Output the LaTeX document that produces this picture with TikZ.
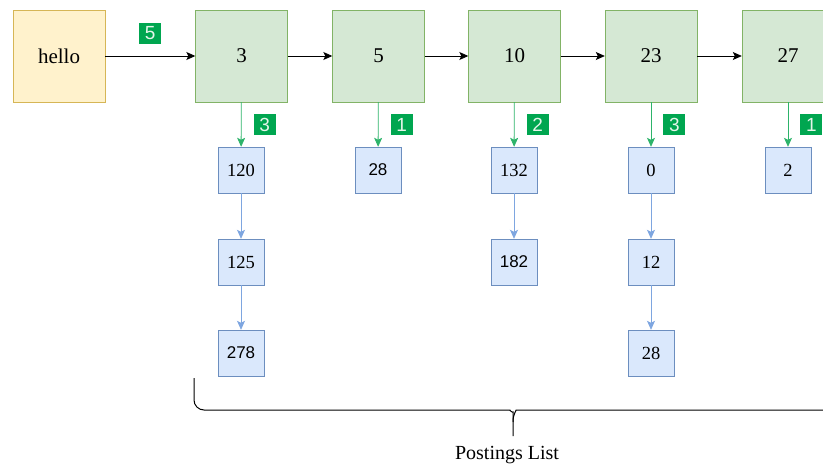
\documentclass[tikz,border=0pt]{standalone}
\usepackage{fontspec}
\setmainfont{Liberation Serif}
\setsansfont{Liberation Sans}
\usetikzlibrary{arrows.meta}
\definecolor{termfill}{HTML}{FFF2CC}
\definecolor{termdraw}{HTML}{D6B656}
\definecolor{docfill}{HTML}{D5E8D4}
\definecolor{docdraw}{HTML}{82B366}
\definecolor{postfill}{HTML}{DAE8FC}
\definecolor{postdraw}{HTML}{6C8EBF}
\definecolor{postline}{HTML}{7EA6E0}
\definecolor{freqgreen}{HTML}{00A650}
\definecolor{freqline}{HTML}{2DB36A}
\definecolor{freqtext}{HTML}{E6F5EA}
\tikzset{
  term/.style={draw=termdraw, fill=termfill, minimum size=92pt, inner sep=0pt,
    font=\fontsize{21}{21}\selectfont},
  docid/.style={draw=docdraw, fill=docfill, minimum size=92pt, inner sep=0pt,
    font=\fontsize{21}{21}\selectfont},
  posting/.style={draw=postdraw, fill=postfill, minimum size=46pt, inner sep=0pt,
    font=\fontsize{18.5}{18.5}\selectfont},
  possans/.style={posting, font=\sffamily\fontsize{17}{17}\selectfont},
  freq/.style={fill=freqgreen, text=freqtext, minimum width=22pt, minimum height=21pt,
    inner sep=0pt, font=\sffamily\fontsize{19}{19}\selectfont},
  nextdoc/.style={-{Stealth[length=9pt,width=8pt,inset=2pt]}, black, line width=0.8pt},
  tofreq/.style={-{Stealth[length=9pt,width=8pt,inset=2pt]}, freqline, line width=0.8pt},
  nextpos/.style={-{Stealth[length=9pt,width=8pt,inset=2pt]}, postline, line width=0.8pt}
}
\begin{document}
\begin{tikzpicture}[x=1pt,y=-1pt]
\useasboundingbox (0,0) rectangle (823,468);
\clip (0,0) rectangle (823,468);

% term and its document ids
\node[term] (hello) at (59,56) {hello};
\node[docid] (d3)  at (241.5,56) {3};
\node[docid] (d5)  at (378.5,56) {5};
\node[docid] (d10) at (514.5,56) {10};
\node[docid] (d23) at (651,56)   {23};
\node[docid] (d27) at (788,56)   {27};

\draw[nextdoc] (hello) -- node[freq, midway, above=12pt] (f0) {5} (d3);
\draw[nextdoc] (d3) -- (d5);
\draw[nextdoc] (d5) -- (d10);
\draw[nextdoc] (d10) -- (d23);
\draw[nextdoc] (d23) -- (d27);

% positions for each document
\node[posting] (p3a) at (241,170) {120};
\node[posting] (p3b) at (241,262) {125};
\node[possans] (p3c) at (241,353) {278};
\node[possans] (p5a) at (378,170) {28};
\node[posting] (p10a) at (514,170) {132};
\node[possans] (p10b) at (514,262) {182};
\node[posting] (p23a) at (651,170) {0};
\node[posting] (p23b) at (651,262) {12};
\node[posting] (p23c) at (651,353) {28};
\node[posting] (p27a) at (788,170) {2};

% term frequency in each document
\draw[tofreq] (d3)  -- node[freq, midway, right=12pt] (f3)  {3} (p3a);
\draw[tofreq] (d5)  -- node[freq, midway, right=12pt] (f5)  {1} (p5a);
\draw[tofreq] (d10) -- node[freq, midway, right=12pt] (f10) {2} (p10a);
\draw[tofreq] (d23) -- node[freq, midway, right=12pt] (f23) {3} (p23a);
\draw[tofreq] (d27) -- node[freq, midway, right=12pt] (f27) {1} (p27a);

\draw[nextpos] (p3a) -- (p3b);
\draw[nextpos] (p3b) -- (p3c);
\draw[nextpos] (p10a) -- (p10b);
\draw[nextpos] (p23a) -- (p23b);
\draw[nextpos] (p23b) -- (p23c);

% the brace under the postings
\coordinate (bl) at (194,378);
\coordinate (tip) at (513,436);
\draw[line width=1pt, rounded corners=10pt] (bl) -- (194,410) -- (500,410)
  .. controls (509,410) and (513,413) .. (513,422) -- (tip);
\draw[line width=1pt, rounded corners=10pt] (513,422)
  .. controls (513,413) and (517,410) .. (526,410) -- (840,410) -- (840,378);
\node[font=\fontsize{20}{20}\selectfont] (plist) at (507,455) {Postings List};
\end{tikzpicture}
\end{document}
